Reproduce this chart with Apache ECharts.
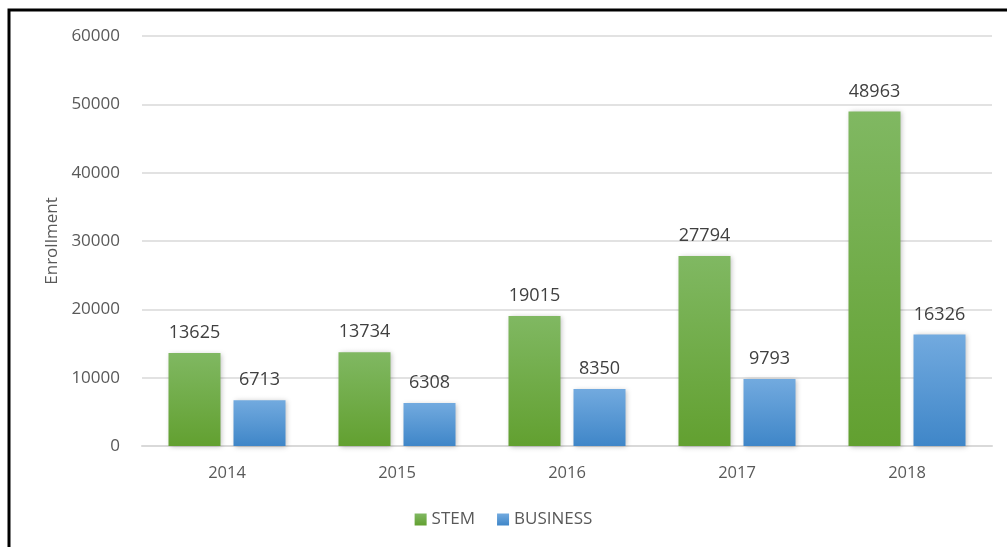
<!DOCTYPE html>
<html>
<head>
<meta charset="utf-8">
<script src="https://cdn.jsdelivr.net/npm/echarts@6/dist/echarts.min.js"></script>
<style>
  html, body { margin: 0; padding: 0; background: #fff; }
  #main { width: 1007px; height: 547px; }
</style>
</head>
<body>
<div id="main"></div>
<script>
var years = ['2014', '2015', '2016', '2017', '2018'];
var stem = [13625, 13734, 19015, 27794, 48963];
var business = [6713, 6308, 8350, 9793, 16326];
var yTicks = [0, 10000, 20000, 30000, 40000, 50000, 60000];

var myChart = echarts.init(document.getElementById('main'));

function grad(top, bottom) {
    return new echarts.graphic.LinearGradient(0, 0, 0, 1, [
        { offset: 0, color: top },
        { offset: 1, color: bottom }
    ]);
}

var fontFam = '"Open Sans", "DejaVu Sans", sans-serif';

var option = {
    animation: false,
    backgroundColor: '#fff',
    textStyle: { fontFamily: fontFam },
    graphic: [{
        type: 'rect',
        shape: { x: 9, y: 10, width: 1100, height: 600 },
        style: { fill: 'none', stroke: '#000', lineWidth: 3 },
        silent: true
    }],
    grid: {
        left: 142,
        right: 15,
        top: 36,
        bottom: 101
    },
    legend: {
        bottom: 14,
        left: 'center',
        itemWidth: 12,
        itemHeight: 12,
        itemGap: 22,
        icon: 'rect',
        textStyle: { color: '#595959', fontSize: 17, fontFamily: fontFam },
        data: ['STEM', 'BUSINESS']
    },
    xAxis: {
        type: 'category',
        data: years,
        axisTick: { show: false },
        axisLine: { lineStyle: { color: '#d9d9d9', width: 2 } },
        axisLabel: { color: '#595959', fontSize: 16.5, margin: 19 }
    },
    yAxis: {
        type: 'value',
        min: yTicks[0],
        max: yTicks[yTicks.length - 1],
        interval: 10000,
        name: 'Enrollment',
        nameLocation: 'middle',
        nameGap: 80,
        nameTextStyle: { color: '#595959', fontSize: 17 },
        axisLine: { show: false },
        axisTick: { show: false },
        axisLabel: {
            color: '#595959',
            fontSize: 17,
            margin: 22,
            formatter: function (v) { return String(v); }
        },
        splitLine: { lineStyle: { color: '#d9d9d9', width: 1.5 } }
    },
    series: [{
        name: 'STEM',
        type: 'bar',
        data: stem,
        barWidth: 52,
        barGap: '25%',
        itemStyle: {
            color: grad('#80b862', '#62a030'),
            shadowColor: 'rgba(0,0,0,0.25)',
            shadowBlur: 5,
            shadowOffsetX: 1,
            shadowOffsetY: 1
        },
        label: { show: true, position: 'top', distance: 11, color: '#404040', fontSize: 18 }
    }, {
        name: 'BUSINESS',
        type: 'bar',
        data: business,
        barWidth: 52,
        itemStyle: {
            color: grad('#72aadf', '#3f86c8'),
            shadowColor: 'rgba(0,0,0,0.25)',
            shadowBlur: 5,
            shadowOffsetX: 1,
            shadowOffsetY: 1
        },
        label: { show: true, position: 'top', distance: 11, color: '#404040', fontSize: 18 }
    }]
};
option.color = ['#70ad47', '#5b9bd5'];

myChart.setOption(option);
</script>
</body>
</html>
